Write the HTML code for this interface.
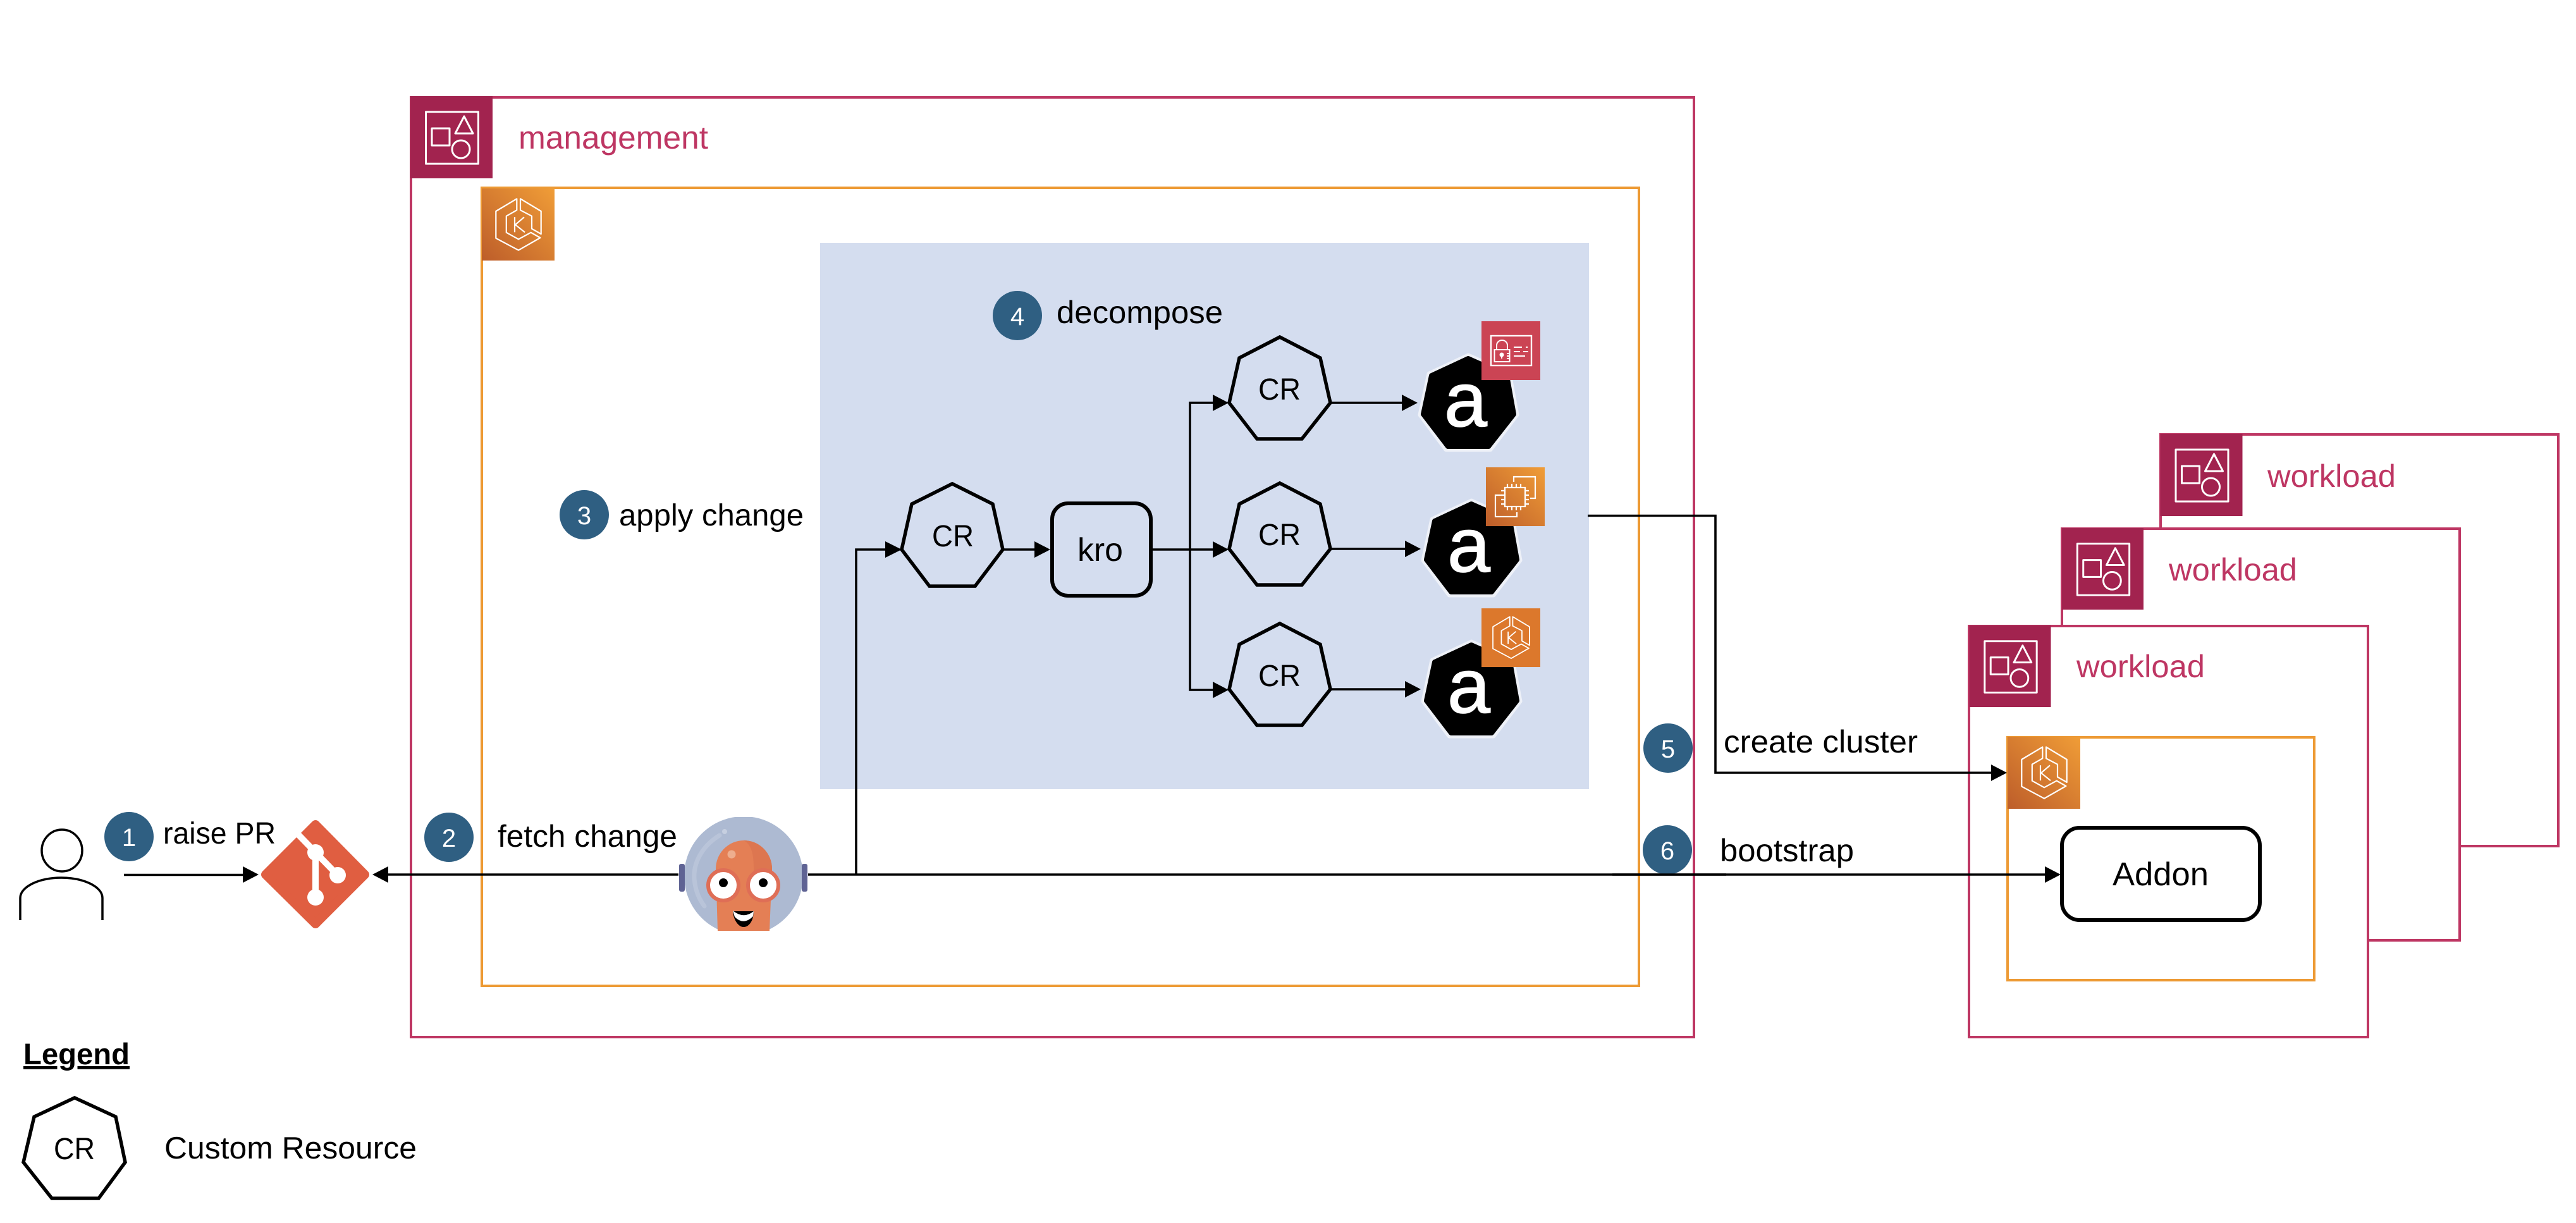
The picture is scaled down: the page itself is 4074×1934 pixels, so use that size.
<!DOCTYPE html>
<html lang="en">
<head>
<meta charset="utf-8">
<title>kro diagram</title>
<style>
html,body{margin:0;padding:0;background:#fff;width:4074px;height:1934px;overflow:hidden}
svg{display:block}
text{font-family:"Liberation Sans",Arial,sans-serif;fill:#000}
.c{fill:#BE3663}
.n{fill:#fff;font-size:40px;text-anchor:middle}
</style>
</head>
<body>
<svg xmlns="http://www.w3.org/2000/svg" width="4074" height="1934" viewBox="0 0 4074 1934">
<defs>
  <linearGradient id="og" x1="0" y1="1" x2="1" y2="0">
    <stop offset="0" stop-color="#BD5D2A"/><stop offset="1" stop-color="#F09D37"/>
  </linearGradient>
  <symbol id="acct" viewBox="0 0 130 130" overflow="visible">
    <rect width="130" height="130" fill="#A2234F"/>
    <g fill="none" stroke="#fff" stroke-width="3" stroke-linejoin="round">
      <rect x="24.5" y="25" width="83" height="82"/>
      <path d="M85 32 71 59H99Z"/>
      <rect x="34" y="51" width="28" height="27"/>
      <ellipse cx="80" cy="84" rx="14" ry="14"/>
    </g>
  </symbol>
  <g id="eksg" fill="none" stroke="#fff" stroke-width="2.2" stroke-linejoin="round">
    <path d="M55.3 16.3 22.3 36V78.7L58 97.7 92.4 78 77.6 69.7 58 80.3 38.8 69.7V43.7L55.3 34.3Z"/>
    <path d="M61 16.3 93.7 36V72L79 63.7V43.7L61 34.3Z"/>
    <path d="M52 45.3V69.3M67 45.3 53 57.3 68 69.3"/>
  </g>
  <polygon id="cr" points="0,-104 -64,-71 -80,0 -36,57 35,57 80,0 64,-71" fill="none" stroke="#000" stroke-width="5.5" stroke-linejoin="miter"/>
  <g id="alogo">
    <polygon points="2327,792 2265,821 2251,886 2292,941 2362,941 2404,886 2392,821" fill="#000" stroke="#EEF1F8" stroke-width="7" stroke-linejoin="round"/>
    <polygon points="2327,797 2269,824 2256,885 2295,936 2359,936 2399,885 2388,824" fill="#000" stroke="#000" stroke-width="8" stroke-linejoin="round"/>
    <text x="2289" y="904" font-size="122" style="fill:#fff;stroke:#fff;stroke-width:1.5">a</text>
  </g>
</defs>

<!-- management -->
<rect x="650" y="154" width="2029" height="1486" fill="#fff" stroke="#BE3663" stroke-width="4"/>
<use href="#acct" x="649" y="152" width="130" height="130"/>
<text class="c" x="820" y="235" font-size="51" textLength="300" lengthAdjust="spacingAndGlyphs">management</text>

<!-- eks mgmt -->
<rect x="762" y="297" width="1830" height="1262" fill="#fff" stroke="#ED9A34" stroke-width="4"/>
<rect x="762" y="298" width="115" height="114" fill="url(#og)"/>
<use href="#eksg" x="762" y="298"/>

<!-- blue -->
<rect x="1297" y="384" width="1216" height="864" fill="#D4DDEF"/>

<!-- workload stack -->
<rect x="3417" y="687" width="629" height="651" fill="#fff" stroke="#BE3663" stroke-width="4"/>
<use href="#acct" x="3416" y="686" width="131" height="130"/>
<text class="c" x="3586" y="770" font-size="50.5" textLength="203" lengthAdjust="spacingAndGlyphs">workload</text>
<rect x="3261" y="836" width="629" height="651" fill="#fff" stroke="#BE3663" stroke-width="4"/>
<use href="#acct" x="3260" y="835" width="131" height="129"/>
<text class="c" x="3430" y="918" font-size="50.5" textLength="203" lengthAdjust="spacingAndGlyphs">workload</text>
<rect x="3114" y="990" width="631" height="650" fill="#fff" stroke="#BE3663" stroke-width="4"/>
<use href="#acct" x="3113" y="989" width="132" height="129"/>
<text class="c" x="3284" y="1071" font-size="50.5" textLength="203" lengthAdjust="spacingAndGlyphs">workload</text>

<rect x="3175" y="1166" width="485" height="384" fill="#fff" stroke="#ED9A34" stroke-width="4"/>
<rect x="3175" y="1165" width="115" height="114" fill="url(#og)"/>
<use href="#eksg" x="3175" y="1165"/>
<rect x="3261" y="1309" width="313" height="146" rx="28" fill="#fff" stroke="#000" stroke-width="6"/>
<text x="3341" y="1400" font-size="52" textLength="152" lengthAdjust="spacingAndGlyphs">Addon</text>

<!-- CRs -->
<g transform="translate(1506,869)"><polygon points="0,-104 -64,-72 -80,0 -36,58 36,58 80,0 64,-72" fill="none" stroke="#000" stroke-width="5.5"/></g>
<text x="1474" y="864" font-size="48" textLength="66" lengthAdjust="spacingAndGlyphs">CR</text>
<use href="#cr" transform="translate(2024,637)"/>
<text x="1990" y="632" font-size="48" textLength="67" lengthAdjust="spacingAndGlyphs">CR</text>
<use href="#cr" transform="translate(2024,868)"/>
<text x="1990" y="862" font-size="48" textLength="67" lengthAdjust="spacingAndGlyphs">CR</text>
<use href="#cr" transform="translate(2024,1090)"/>
<text x="1990" y="1085" font-size="48" textLength="67" lengthAdjust="spacingAndGlyphs">CR</text>

<!-- kro -->
<rect x="1664" y="796" width="156" height="146" rx="25" fill="none" stroke="#000" stroke-width="6"/>
<text x="1704" y="887" font-size="52" textLength="72" lengthAdjust="spacingAndGlyphs">kro</text>

<!-- a logos -->
<use href="#alogo" transform="translate(-5,-230)"/>
<use href="#alogo"/>
<use href="#alogo" transform="translate(0,223)"/>

<!-- badge tiles -->
<rect x="2343" y="508" width="93" height="93" fill="#CB4454"/>
<g fill="none" stroke="#fff" stroke-width="2">
  <rect x="2358" y="531" width="64" height="47" stroke-width="2.4"/>
  <rect x="2363.500" y="553" width="24" height="19"/>
  <path d="M2367 553V546A8.500 8 0 0 1 2384 546V553"/>
  <path d="M2394 549H2407M2413 549H2416M2394 556H2404M2409 556H2417M2394 563H2412"/>
  <circle cx="2375" cy="561" r="2.500" fill="#fff"/>
  <path d="M2375 562V567M2383 559H2387M2383 563H2387M2383 567H2387"/>
</g>

<rect x="2350" y="739" width="93" height="93" fill="url(#og)"/>
<g fill="none" stroke="#fff" stroke-width="2.200">
  <rect x="2380" y="771" width="32" height="30"/>
  <path d="M2394 762V754H2428V788H2420"/>
  <path d="M2375 783H2365V817H2399V810"/>
  <path d="M2384 765V771M2391 765V771M2398 765V771M2405 765V771M2384 801V807M2391 801V807M2398 801V807M2405 801V807M2374 776H2380M2374 783H2380M2374 790H2380M2374 797H2380M2412 776H2418M2412 783H2418M2412 790H2418M2412 797H2418"/>
</g>

<rect x="2343" y="962" width="93" height="93" fill="#DC782C"/>
<g transform="translate(2343,962) scale(0.81)"><use href="#eksg"/></g>

<!-- connectors -->
<g fill="none" stroke="#000" stroke-width="3.6">
  <path d="M196 1383.500H386"/>
  <path d="M612 1383H1073"/>
  <path d="M1278 1383H3238"/>
  <path d="M1354 1383V869H1402"/>
  <path d="M1586 869H1638"/>
  <path d="M1820 869H1920"/>
  <path d="M1920 637H1882V1091H1920"/>
  <path d="M2104 637H2219"/>
  <path d="M2104 868H2224"/>
  <path d="M2104 1090H2224"/>
  <path d="M2511 815.500H2713V1222H3152"/>
</g>
<g fill="#000">
  <path d="M409 1383 384 1370V1396Z"/>
  <path d="M589 1383 614 1370V1396Z"/>
  <path d="M1426 869 1400 856V882Z"/>
  <path d="M1661 869 1636 856V882Z"/>
  <path d="M1943 869 1918 856V882Z"/>
  <path d="M1943 637 1918 624V650Z"/>
  <path d="M1943 1091 1918 1078V1104Z"/>
  <path d="M2242 637 2217 624V650Z"/>
  <path d="M2247 868 2222 855V881Z"/>
  <path d="M2247 1090 2222 1077V1103Z"/>
  <path d="M3174 1222 3149 1209V1235Z"/>
  <path d="M3259 1383 3234 1370V1396Z"/>
</g>

<!-- person -->
<ellipse cx="98" cy="1345" rx="32" ry="33" fill="none" stroke="#000" stroke-width="3.5"/>
<path d="M32 1455V1420C32 1402 62 1388 97 1388C132 1388 162 1402 162 1420V1455" fill="none" stroke="#000" stroke-width="3.5"/>

<!-- git -->
<polygon points="499,1304 577,1383 499,1461 420,1383" fill="#E05E41" stroke="#E05E41" stroke-width="14" stroke-linejoin="round"/>
<g fill="#fff">
  <path d="M472 1320 499 1348 534 1384" fill="none" stroke="#fff" stroke-width="10"/>
  <path d="M499 1348V1419" fill="none" stroke="#fff" stroke-width="10"/>
  <circle cx="499" cy="1348" r="13"/>
  <circle cx="534" cy="1384" r="13"/>
  <circle cx="499" cy="1419" r="13"/>
</g>

<!-- argo -->
<clipPath id="argoclip"><rect x="1060" y="1292" width="230" height="180"/></clipPath>
<g clip-path="url(#argoclip)">
  <circle cx="1176" cy="1385" r="94" fill="#ADBAD2"/>
  <path d="M1138 1321C1115 1335 1096 1360 1098 1390C1100 1410 1106 1422 1114 1433" fill="none" stroke="#B9C4D9" stroke-width="7" stroke-linecap="round"/>
  <circle cx="1146" cy="1315" r="4" fill="#C6CFE0"/>
  <path d="M1132 1374A44.500 45 0 0 1 1221 1374L1217 1472H1135Z" fill="#E47F55"/>
  <path d="M1176 1329C1188 1335 1192 1350 1192 1372V1400H1221V1374A44.500 45 0 0 0 1176 1329Z" fill="#DD7650"/>
</g>
<circle cx="1157" cy="1351" r="6.500" fill="#EEAE8E"/>
<rect x="1074" y="1366" width="9" height="44" rx="3" fill="#5F6394"/>
<rect x="1268" y="1366" width="9" height="44" rx="3" fill="#5F6394"/>
<g stroke="#DF6E56" stroke-width="6" fill="#fff">
  <circle cx="1144" cy="1400" r="24"/>
  <circle cx="1207" cy="1400" r="24"/>
</g>
<circle cx="1144" cy="1396" r="7" fill="#000"/>
<circle cx="1207" cy="1396" r="7" fill="#000"/>
<path d="M1159 1441C1160 1455 1168 1466 1176 1466C1185 1466 1192 1455 1192 1441Z" fill="#000"/>
<path d="M1159 1440Q1176 1454 1192 1441L1191 1449Q1176 1464 1162 1450Z" fill="#fff"/>

<!-- numbered circles -->
<g fill="#2F5F82">
  <circle cx="204" cy="1323" r="39"/>
  <circle cx="710" cy="1324" r="39"/>
  <circle cx="924" cy="814" r="39"/>
  <circle cx="1609" cy="499" r="39"/>
  <circle cx="2638" cy="1183" r="39"/>
  <circle cx="2637" cy="1344" r="39"/>
</g>
<path d="M2550 1383H2730" stroke="#000" stroke-width="3.6"/>
<text class="n" x="204" y="1338">1</text>
<text class="n" x="710" y="1339">2</text>
<text class="n" x="924" y="829">3</text>
<text class="n" x="1609" y="514">4</text>
<text class="n" x="2638" y="1198">5</text>
<text class="n" x="2637" y="1359">6</text>

<!-- labels -->
<text x="258" y="1334" font-size="48" textLength="178" lengthAdjust="spacingAndGlyphs">raise PR</text>
<text x="787" y="1339" font-size="49" textLength="284" lengthAdjust="spacingAndGlyphs">fetch change</text>
<text x="979" y="831" font-size="48" textLength="292" lengthAdjust="spacingAndGlyphs">apply change</text>
<text x="1671" y="511" font-size="50" textLength="263" lengthAdjust="spacingAndGlyphs">decompose</text>
<text x="2726" y="1190" font-size="50" textLength="307" lengthAdjust="spacingAndGlyphs">create cluster</text>
<text x="2720" y="1362" font-size="50" textLength="212" lengthAdjust="spacingAndGlyphs">bootstrap</text>

<!-- legend -->
<text x="37" y="1683" font-size="47" font-weight="700" text-decoration="underline" textLength="168" lengthAdjust="spacingAndGlyphs">Legend</text>
<polygon points="118,1736 54,1766 37,1838 82,1895 156,1895 198,1838 183,1766" fill="none" stroke="#000" stroke-width="5.5"/>
<text x="85" y="1833" font-size="48" textLength="65" lengthAdjust="spacingAndGlyphs">CR</text>
<text x="260" y="1832" font-size="49" textLength="399" lengthAdjust="spacingAndGlyphs">Custom Resource</text>
</svg>
</body>
</html>
